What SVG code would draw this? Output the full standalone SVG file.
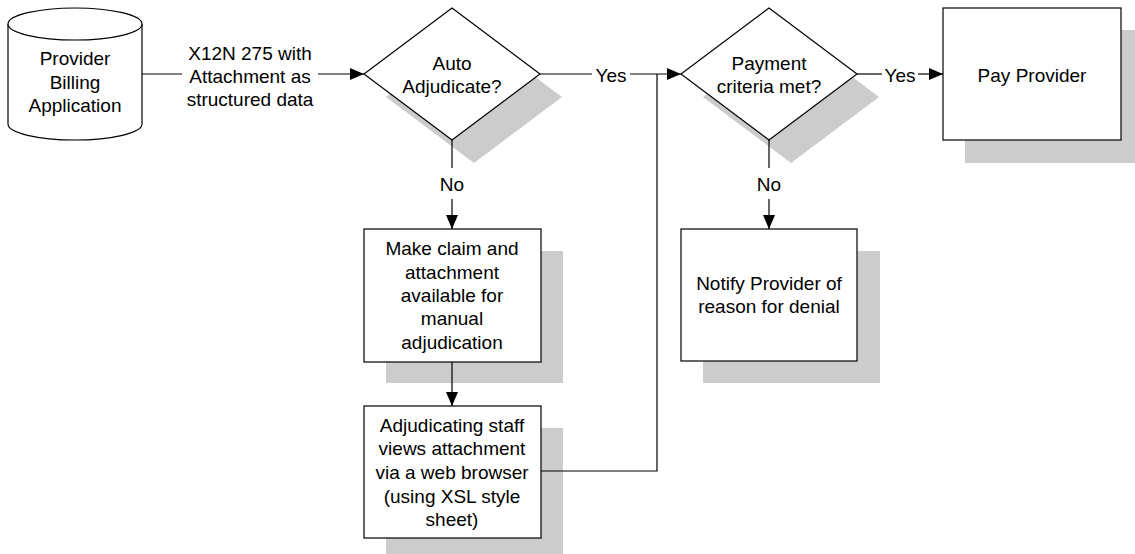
<svg xmlns="http://www.w3.org/2000/svg" width="1135" height="554" viewBox="0 0 1135 554">
<style>
.shape{fill:#fff;stroke:#000;stroke-width:1.2}
.shadow{fill:#cccccc;stroke:none}
.t{font-family:"Liberation Sans",Arial,sans-serif;font-size:19px;fill:#000;text-anchor:middle;dominant-baseline:central}
.c{fill:none;stroke:#000;stroke-width:1.2}
</style>
<defs>
<marker id="arr" viewBox="0 0 14 12" refX="14" refY="6" markerWidth="14" markerHeight="12" markerUnits="userSpaceOnUse" orient="auto">
<path d="M0,0 L14,6 L0,12 Z" fill="#000"/>
</marker>
</defs>
<rect width="1135" height="554" fill="#fff"/>
<g id="provider-billing">
<path class="shape" d="M8,24 L8,124 A67,16 0 0 0 142,124 L142,24 A67,16 0 0 0 8,24 Z"/>
<path class="shape" d="M8,24 A67,16 0 0 0 142,24"/>
<text class="t" x="75" y="58">Provider</text>
<text class="t" x="75" y="82">Billing</text>
<text class="t" x="75" y="105">Application</text>
</g>
<g id="auto-adjudicate">
<polygon class="shadow" points="474,31 562,97 474,163 386,97"/>
<polygon class="shape" points="452,8 540,74 452,140 364,74"/>
<text class="t" x="452" y="63">Auto</text>
<text class="t" x="452" y="86">Adjudicate?</text>
</g>
<g id="payment-criteria">
<polygon class="shadow" points="791,31 879,97 791,163 703,97"/>
<polygon class="shape" points="769,8 857,74 769,140 681,74"/>
<text class="t" x="769" y="63">Payment</text>
<text class="t" x="769" y="86">criteria met?</text>
</g>
<g id="pay-provider">
<rect class="shadow" x="965" y="30" width="178" height="133"/>
<rect class="shape" x="943" y="8" width="178" height="132"/>
<text class="t" x="1032" y="75">Pay Provider</text>
</g>
<g id="manual-adjudication">
<rect class="shadow" x="386" y="251" width="177" height="132"/>
<rect class="shape" x="364" y="229" width="177" height="133"/>
<text class="t" x="452" y="248">Make claim and</text>
<text class="t" x="452" y="272">attachment</text>
<text class="t" x="452" y="295">available for</text>
<text class="t" x="452" y="318">manual</text>
<text class="t" x="452" y="342">adjudication</text>
</g>
<g id="staff-views">
<rect class="shadow" x="386" y="428" width="177" height="132"/>
<rect class="shape" x="364" y="406" width="177" height="132"/>
<text class="t" x="452" y="425">Adjudicating staff</text>
<text class="t" x="452" y="448">views attachment</text>
<text class="t" x="452" y="472">via a web browser</text>
<text class="t" x="452" y="496">(using XSL style</text>
<text class="t" x="452" y="519">sheet)</text>
</g>
<g id="notify-provider">
<rect class="shadow" x="703" y="251" width="177" height="132"/>
<rect class="shape" x="681" y="229" width="176" height="132"/>
<text class="t" x="769" y="283">Notify Provider of</text>
<text class="t" x="769" y="306">reason for denial</text>
</g>
<g id="connectors">
<path class="c" d="M142,74 L182,74"/>
<path class="c" d="M318,74 L364,74" marker-end="url(#arr)"/>
<text class="t" x="250" y="53">X12N 275 with</text>
<text class="t" x="250" y="76">Attachment as</text>
<text class="t" x="250" y="99">structured data</text>
<path class="c" d="M540,74 L592,74"/>
<text class="t" x="611" y="75">Yes</text>
<path class="c" d="M630,74 L681,74" marker-end="url(#arr)"/>
<path class="c" d="M541,471 L657,471 L657,74"/>
<path class="c" d="M857,74 L882,74"/>
<text class="t" x="900" y="75">Yes</text>
<path class="c" d="M918,74 L943,74" marker-end="url(#arr)"/>
<path class="c" d="M452,140 L452,168"/>
<text class="t" x="452" y="184">No</text>
<path class="c" d="M452,199 L452,229" marker-end="url(#arr)"/>
<path class="c" d="M769,140 L769,168"/>
<text class="t" x="769" y="184">No</text>
<path class="c" d="M769,199 L769,229" marker-end="url(#arr)"/>
<path class="c" d="M452,362 L452,406" marker-end="url(#arr)"/>
</g>
</svg>
